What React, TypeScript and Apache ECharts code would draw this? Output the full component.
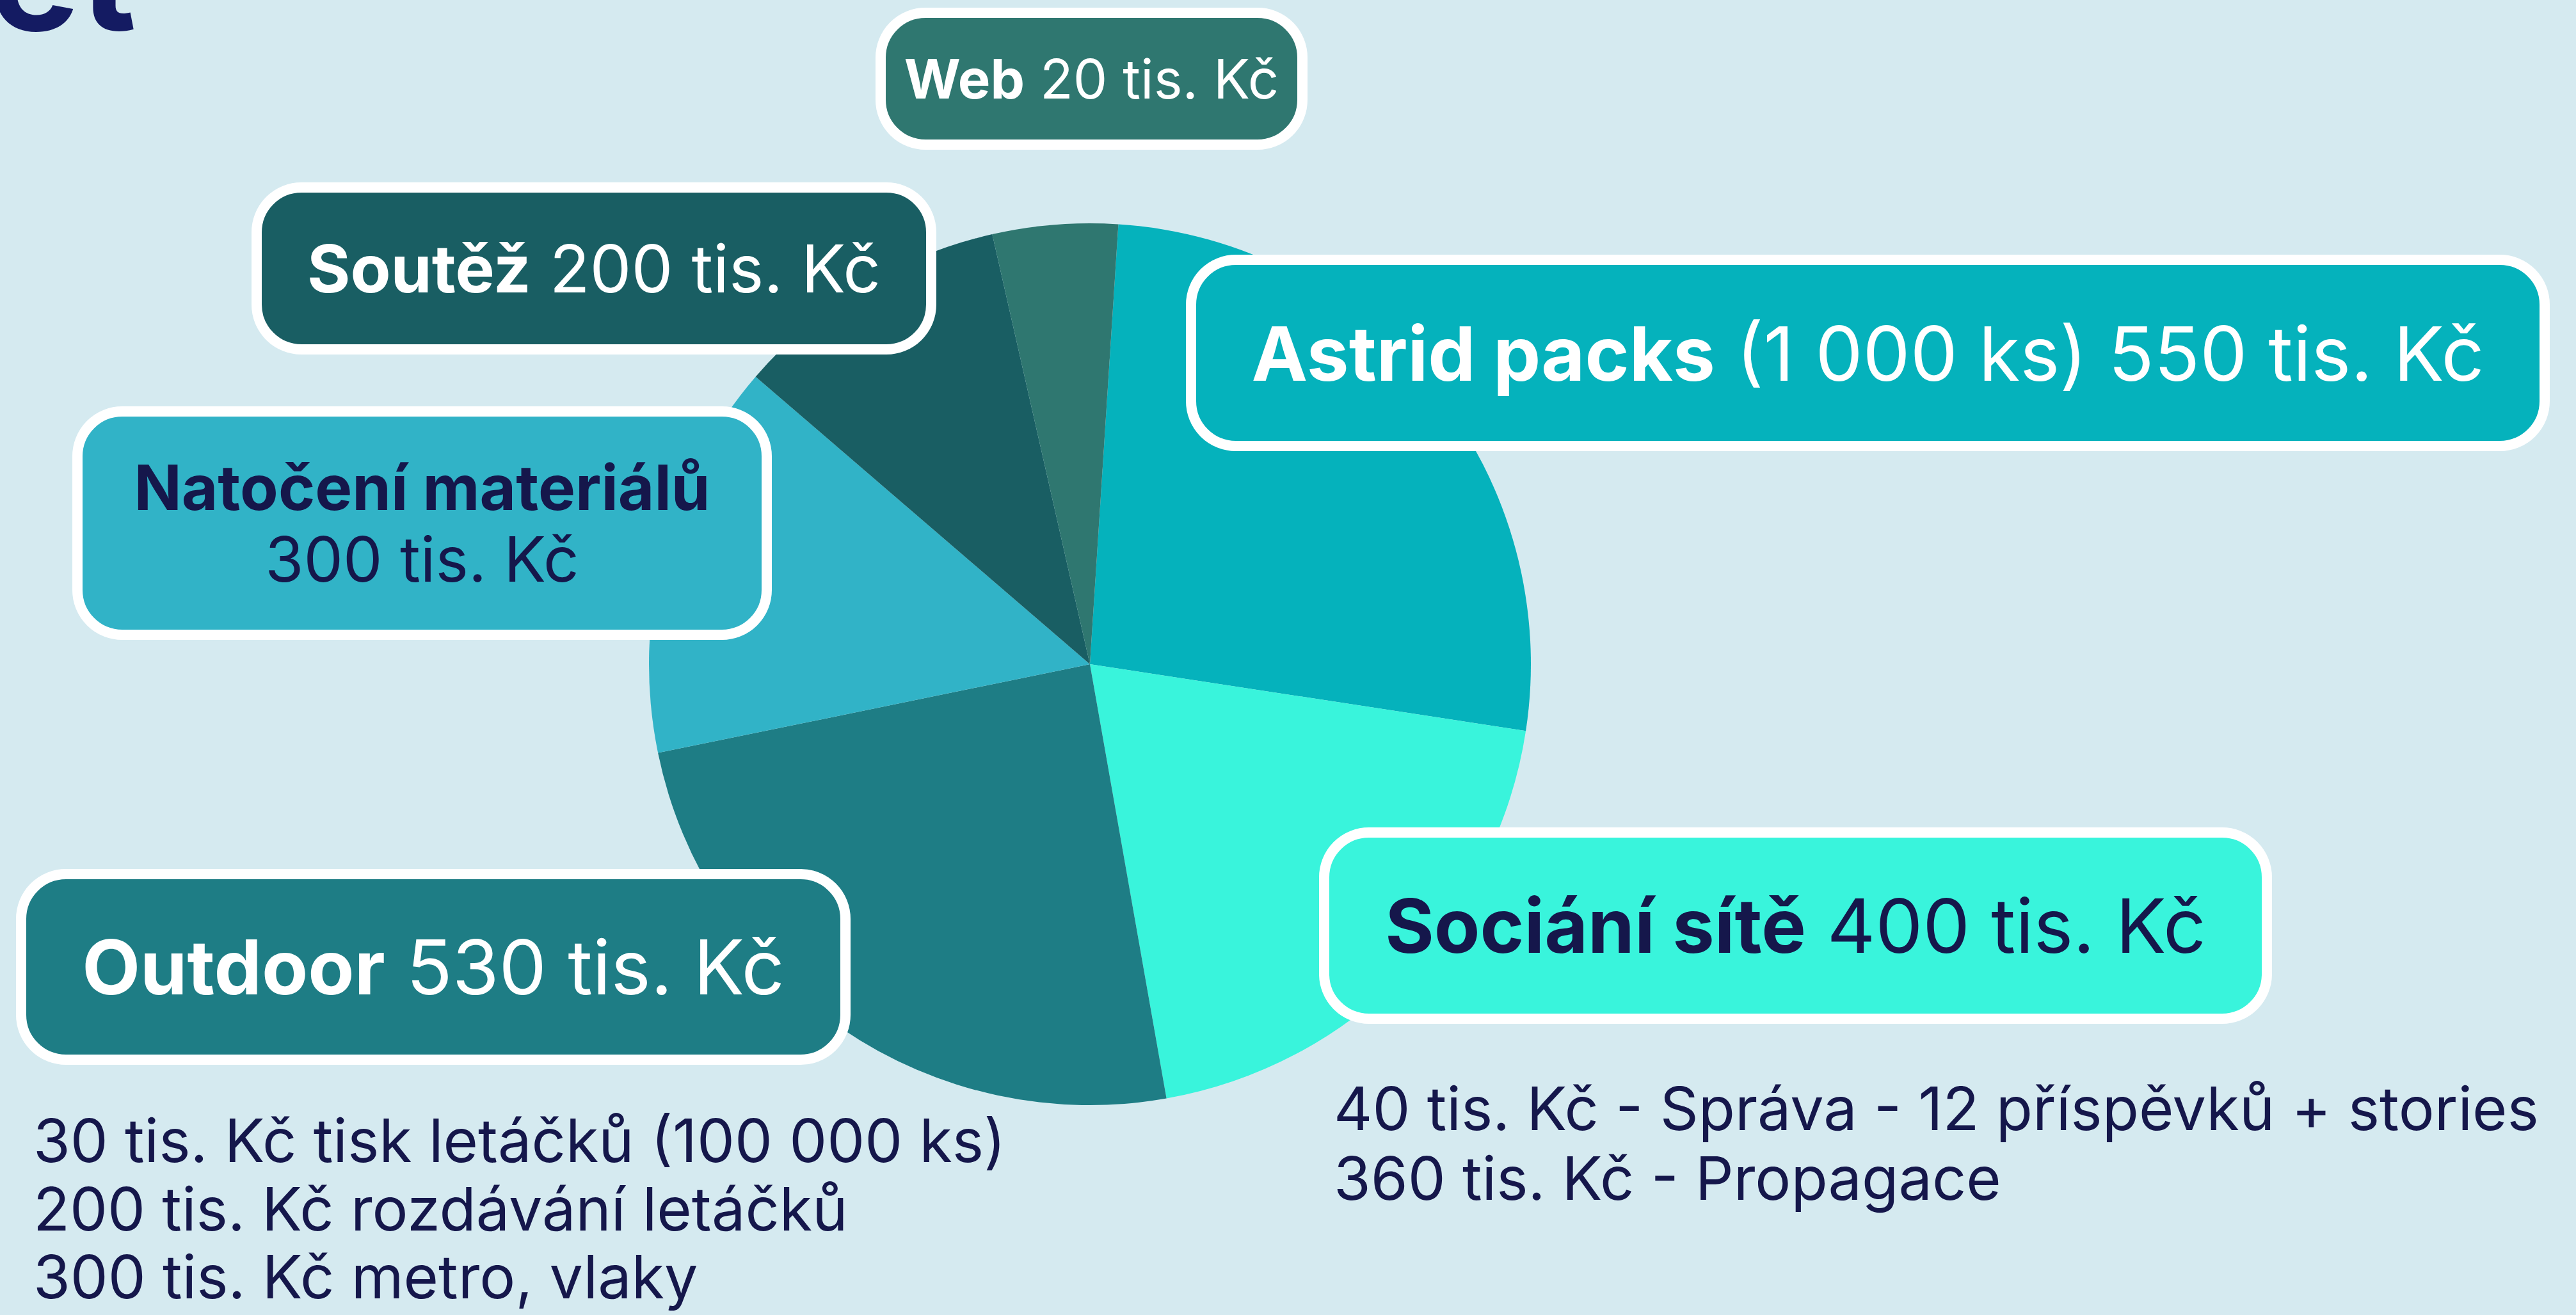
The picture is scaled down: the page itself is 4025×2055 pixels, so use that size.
import React, { useEffect, useRef } from 'react';
import * as echarts from 'echarts';

// ---- data ----
const categories = ['Astrid packs', 'Sociání sítě', 'Outdoor', 'Natočení materiálů', 'Soutěž', 'Web'];
const amountsTisKc = [550, 400, 530, 300, 200, 20];
const nameDetails = ['(1 000 ks)', '', '', '', '', ''];
// slice sizes as drawn in the picture (degrees of the circle)
const sliceAngles = [95.0, 71.3, 88.4, 52.3, 36.5, 16.5];
const sliceColors = ['#05b2bc', '#39f4dc', '#1e7d85', '#31b3c7', '#195e63', '#2f7770'];
const labelTextColors = ['#ffffff', '#15174b', '#ffffff', '#15174b', '#ffffff', '#ffffff'];
const outdoorNotes = [
  '30 tis. Kč tisk letáčků (100 000 ks)',
  '200 tis. Kč rozdávání letáčků',
  '300 tis. Kč metro, vlaky',
];
const socialNotes = [
  '40 tis. Kč - Správa - 12 příspěvků + stories',
  '360 tis. Kč - Propagace',
];
const titleText = 'Rozpočet';

// ---- layout ----
const FONT = 'Inter, "Noto Sans", sans-serif';
const NAVY = '#15174b';
const boxLayout = [
  { x0: 1853, y0: 398, x1: 3984, y1: 705, fs: 117.5, twoLine: false },
  { x0: 2061, y0: 1293, x1: 3550, y1: 1600, fs: 117, twoLine: false },
  { x0: 25, y0: 1358, x1: 1329, y1: 1664, fs: 118, twoLine: false },
  { x0: 113, y0: 635, x1: 1206, y1: 1000, fs: 97.5, twoLine: true },
  { x0: 393, y0: 285, x1: 1463, y1: 554, fs: 103, twoLine: false },
  { x0: 1368, y0: 12, x1: 2043, y1: 234, fs: 85, twoLine: false },
];
const BORDER = 16;
const NOTE_FS = 93.5;

function amountText(v: number) {
  return `${v} tis. Kč`;
}

function buildGraphics() {
  const els: any[] = [];
  categories.forEach((name, i) => {
    const b = boxLayout[i];
    els.push({
      type: 'rect',
      z: 10,
      shape: {
        x: b.x0 + BORDER / 2,
        y: b.y0 + BORDER / 2,
        width: b.x1 - b.x0 - BORDER,
        height: b.y1 - b.y0 - BORDER,
        r: 70,
      },
      style: { fill: sliceColors[i], stroke: '#ffffff', lineWidth: BORDER },
    });
    const detail = nameDetails[i] ? ' ' + nameDetails[i] : '';
    const text = b.twoLine
      ? `{b|${name}}\n{r|${amountText(amountsTisKc[i])}}`
      : `{b|${name}}{r|${detail} ${amountText(amountsTisKc[i])}}`;
    const lh = b.twoLine ? 112 : b.fs * 1.2;
    els.push({
      type: 'text',
      z: 11,
      x: (b.x0 + b.x1) / 2,
      y: (b.y0 + b.y1) / 2,
      style: {
        text,
        align: 'center',
        verticalAlign: 'middle',
        fill: labelTextColors[i],
        fontFamily: FONT,
        fontSize: b.fs,
        lineHeight: lh,
        rich: {
          b: { fontFamily: FONT, fontSize: b.fs, fontWeight: 700, fill: labelTextColors[i], lineHeight: lh },
          r: { fontFamily: FONT, fontSize: b.fs, fontWeight: 400, fill: labelTextColors[i], lineHeight: lh },
        },
      },
    });
  });
  outdoorNotes.forEach((t, k) => {
    els.push({
      type: 'text',
      z: 11,
      x: 52,
      y: 1782 + k * 106.5,
      style: { text: t, align: 'left', verticalAlign: 'middle', fill: NAVY, fontFamily: FONT, fontSize: NOTE_FS, lineHeight: 96 },
    });
  });
  socialNotes.forEach((t, k) => {
    els.push({
      type: 'text',
      z: 11,
      x: 2084,
      y: 1732 + k * 109,
      style: { text: t, align: 'left', verticalAlign: 'middle', fill: NAVY, fontFamily: FONT, fontSize: NOTE_FS, lineHeight: 96 },
    });
  });
  els.push({
    type: 'text',
    z: 11,
    x: 213,
    y: -41,
    style: {
      text: titleText,
      align: 'right',
      verticalAlign: 'middle',
      fill: '#141b62',
      fontFamily: FONT,
      fontSize: 240,
      fontWeight: 700,
    },
  });
  return els;
}

export default function App() {
  const ref = useRef<HTMLDivElement>(null);
  useEffect(() => {
    if (!ref.current) return;
    const chart = echarts.init(ref.current, undefined, { renderer: 'svg' });
    chart.setOption({
      animation: false,
      backgroundColor: '#d5eaf0',
      series: [
        {
          type: 'pie',
          center: [1703, 1038],
          radius: [0, 689],
          startAngle: 86.3,
          clockwise: true,
          label: { show: false },
          labelLine: { show: false },
          emphasis: { disabled: true },
          itemStyle: { borderWidth: 0 },
          data: categories.map((name, i) => ({
            name,
            value: sliceAngles[i],
            itemStyle: { color: sliceColors[i] },
          })),
        },
      ],
      graphic: buildGraphics(),
    });
    return () => chart.dispose();
  }, []);
  return (
    <div
      ref={ref}
      style={{ position: 'fixed', left: 0, top: 0, width: 4025, height: 2055 }}
    />
  );
}
